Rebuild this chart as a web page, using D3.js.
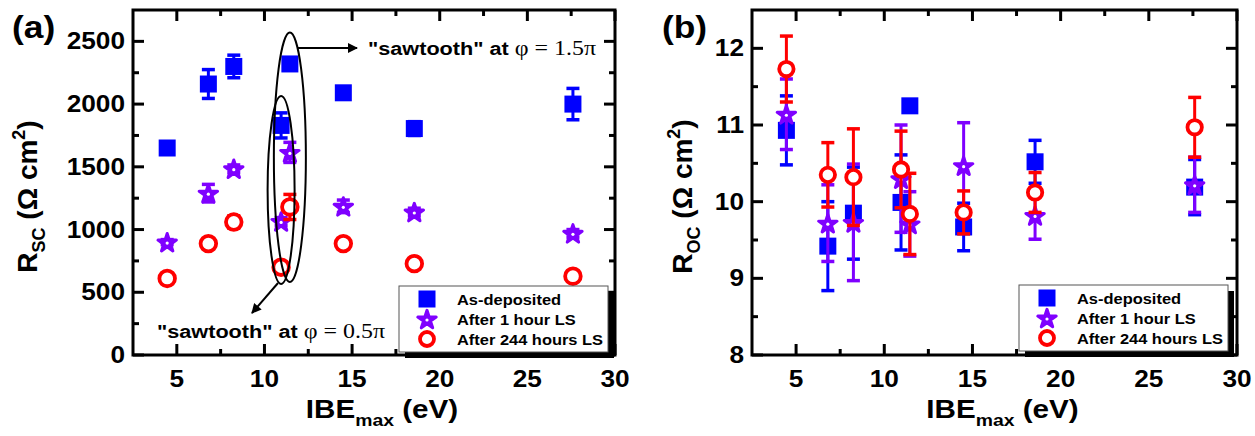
<!DOCTYPE html>
<html><head><meta charset="utf-8">
<script src="https://cdn.jsdelivr.net/npm/d3@7"></script>
<style>
body{margin:0;background:#fff;}
text{font-family:"Liberation Sans",Arial,sans-serif;}
</style></head>
<body><svg id="c" width="1255" height="436"></svg>
<script>
// ---- data ----
const ibe = [4.45, 6.8, 8.25, 10.95, 11.45, 14.5, 18.55, 27.6];
const seriesNames = ["As-deposited", "After 1 hour LS", "After 244 hours LS"];
// (a) R_SC
const rscAsDep = [1650, 2160, 2300, 1830, 2320, 2090, 1805, 2000];
const rscAsDepErr = [20, 115, 90, 100, 25, 25, 55, 125];
const rsc1h = [900, 1290, 1485, 1065, 1615, 1185, 1140, 970];
const rsc1hErr = [20, 70, 30, 30, 80, 50, 30, 30];
const rsc244h = [610, 888, 1060, 700, 1180, 888, 728, 628];
const rsc244hErr = [20, 20, 50, 20, 100, 20, 20, 20];
// (b) R_OC
const rocAsDep = [10.93, 9.42, 9.85, 9.99, 11.25, 9.67, 10.52, 10.19];
const rocAsDepErr = [0.45, 0.58, 0.6, 0.62, 0.0, 0.31, 0.28, 0.36];
const roc1h = [11.14, 9.72, 9.73, 10.3, 9.71, 10.47, 9.82, 10.22];
const roc1hErr = [0.46, 0.5, 0.76, 0.7, 0.42, 0.56, 0.31, 0.36];
const roc244h = [11.73, 10.35, 10.32, 10.42, 9.84, 9.86, 10.12, 10.97];
const roc244hErr = [0.43, 0.42, 0.63, 0.5, 0.53, 0.28, 0.26, 0.39];
const xTicks = [5, 10, 15, 20, 25, 30];
const yTicksL = [0, 500, 1000, 1500, 2000, 2500];
const yTicksR = [8, 9, 10, 11, 12];

const colors = ["#0000ff", "#7f00ff", "#ff0000"];
const svg = d3.select("#c");
const SX = 1.14;

function txt(g, x, y, size, anchor, sx){
  return g.append("text").attr("transform", `translate(${x},${y}) scale(${sx || SX},1)`)
    .attr("text-anchor", anchor || "start").attr("font-size", size).attr("font-weight", "bold");
}

function panel(cfg){
  const g = svg.append("g");
  const x = d3.scaleLinear([2.5, 30], [cfg.x0, cfg.x1]);
  const y = d3.scaleLinear(cfg.yDom, [355, 10]);
  const [X0, X1] = x.range(), [Y0, Y1] = y.range();
  const xMinor = d3.range(5, 30.01, 2.5).filter(v => !xTicks.includes(v));
  const ax = g.append("g").attr("stroke", "#000");
  xTicks.concat(xMinor).forEach(v => {
    const L = xTicks.includes(v) ? 11 : 6;
    ax.append("line").attr("x1", x(v)).attr("x2", x(v)).attr("y1", Y0).attr("y2", Y0 - L).attr("stroke-width", 3);
    ax.append("line").attr("x1", x(v)).attr("x2", x(v)).attr("y1", Y1).attr("y2", Y1 + L).attr("stroke-width", 3);
  });
  cfg.yTicks.concat(cfg.yMinor).forEach(v => {
    const L = cfg.yTicks.includes(v) ? 11 : 6;
    ax.append("line").attr("y1", y(v)).attr("y2", y(v)).attr("x1", X0).attr("x2", X0 + L).attr("stroke-width", 3);
    ax.append("line").attr("y1", y(v)).attr("y2", y(v)).attr("x1", X1).attr("x2", X1 - L).attr("stroke-width", 3);
  });
  g.append("rect").attr("x", X0).attr("y", Y1).attr("width", X1 - X0).attr("height", Y0 - Y1)
    .attr("fill", "none").attr("stroke", "#000").attr("stroke-width", 3);
  xTicks.forEach(v => txt(g, x(v), 387, 23, "middle").text(v));
  cfg.yTicks.forEach(v => txt(g, X0 - 8, y(v) + 8, 23, "end").text(v));
  const xt = txt(g, (X0 + X1) / 2 + 8, 418, 26, "middle");
  xt.append("tspan").text("IBE");
  xt.append("tspan").attr("font-size", 17).attr("dy", 8).text("max");
  xt.append("tspan").attr("dy", -8).text(" (eV)");
  const yt = g.append("text").attr("transform", `translate(${cfg.ytx},${(Y0 + Y1) / 2 + 14}) rotate(-90)`)
    .attr("text-anchor", "middle").attr("font-size", 28).attr("font-weight", "bold");
  yt.append("tspan").text("R");
  yt.append("tspan").attr("font-size", 18).attr("dy", 8).text(cfg.sub);
  yt.append("tspan").attr("dy", -8).text(" (Ω cm");
  yt.append("tspan").attr("font-size", 18).attr("dy", -12).text("2");
  yt.append("tspan").attr("dy", 12).text(")");
  txt(g, cfg.labX, 38, 31).text(cfg.label);
  cfg.series.forEach((s, i) => {
    const sg = g.append("g");
    s.vals.forEach((v, j) => {
      const e = s.err[j];
      if (e > 0) {
        const cx = x(ibe[j]);
        sg.append("line").attr("x1", cx).attr("x2", cx).attr("y1", y(v - e)).attr("y2", y(v + e))
          .attr("stroke", colors[i]).attr("stroke-width", 3);
        [v - e, v + e].forEach(w => sg.append("line").attr("x1", cx - 6.5).attr("x2", cx + 6.5)
          .attr("y1", y(w)).attr("y2", y(w)).attr("stroke", colors[i]).attr("stroke-width", 3.5));
      }
    });
    s.vals.forEach((v, j) => marker(sg, i, x(ibe[j]), y(v), cfg.cr));
  });
  const lg = g.append("g");
  lg.append("rect").attr("x", cfg.lx + 6).attr("y", cfg.ly + 6).attr("width", 209).attr("height", 66).attr("fill", "#000");
  lg.append("rect").attr("x", cfg.lx).attr("y", cfg.ly).attr("width", 209).attr("height", 66)
    .attr("fill", "#fff").attr("stroke", "#555").attr("stroke-width", 1);
  seriesNames.forEach((n, i) => {
    marker(lg, i, cfg.lx + 28, cfg.ly + 13 + i * 20, 7);
    txt(lg, cfg.lx + 58, cfg.ly + 19 + i * 20, 15.5, "start", 1.06).text(n);
  });
  return {x, y, g};
}

function marker(g, i, cx, cy, cr){
  if (i === 0) {
    g.append("rect").attr("x", cx - 8.5).attr("y", cy - 8.5).attr("width", 17).attr("height", 17).attr("fill", colors[0]);
  } else if (i === 1) {
    g.append("path").attr("d", d3.symbol(d3.symbolStar, 105)()).attr("transform", `translate(${cx},${cy + 1})`)
      .attr("fill", colors[1]).attr("stroke", colors[1]).attr("stroke-width", 3).attr("stroke-linejoin", "round");
    g.append("circle").attr("cx", cx).attr("cy", cy + 1).attr("r", 1.6).attr("fill", "#fff");
  } else {
    g.append("circle").attr("cx", cx).attr("cy", cy).attr("r", cr).attr("fill", "#fff")
      .attr("stroke", colors[2]).attr("stroke-width", 3.8);
  }
}

const A = panel({x0: 133, x1: 615, yDom: [0, 2750], yTicks: yTicksL, yMinor: [250, 750, 1250, 1750, 2250],
  ytx: 37, sub: "SC", label: "(a)", labX: 12, lx: 399, ly: 286, cr: 7.8,
  series: [{vals: rscAsDep, err: rscAsDepErr}, {vals: rsc1h, err: rsc1hErr}, {vals: rsc244h, err: rsc244hErr}]});
const B = panel({x0: 752, x1: 1237, yDom: [8, 12.5], yTicks: yTicksR, yMinor: [8.5, 9.5, 10.5, 11.5],
  ytx: 692, sub: "OC", label: "(b)", labX: 662, lx: 1019, ly: 285, cr: 7.2,
  series: [{vals: rocAsDep, err: rocAsDepErr}, {vals: roc1h, err: roc1hErr}, {vals: roc244h, err: roc244hErr}]});

// annotations on (a)
const an = A.g.append("g").attr("fill", "none").attr("stroke", "#000").attr("stroke-width", 2);
const ell = (cx, v1, v2, rx) => an.append("ellipse").attr("cx", A.x(cx)).attr("cy", (A.y(v1) + A.y(v2)) / 2)
  .attr("rx", rx).attr("ry", Math.abs(A.y(v1) - A.y(v2)) / 2);
ell(10.95, 2065, 566, 13.5);
ell(11.45, 2570, 582, 16);
svg.append("defs").append("marker").attr("id", "ah").attr("viewBox", "0 0 10 10").attr("refX", 9).attr("refY", 5)
  .attr("markerWidth", 6).attr("markerHeight", 5).attr("orient", "auto").attr("markerUnits", "strokeWidth")
  .append("path").attr("d", "M0,0 L10,5 L0,10 z").attr("fill", "#000");
an.append("line").attr("x1", 298).attr("y1", 48).attr("x2", 357).attr("y2", 48).attr("marker-end", "url(#ah)");
an.append("line").attr("x1", 278).attr("y1", 283).attr("x2", 252).attr("y2", 313).attr("marker-end", "url(#ah)");
function note(x, y, phi){
  const t = txt(A.g, x, y, 19, "start");
  t.append("tspan").text('"sawtooth" at ');
  t.append("tspan").attr("font-family", "'Liberation Serif','Times New Roman',serif").attr("font-weight", "normal")
    .attr("font-size", 21).text("φ = " + phi);
}
note(368, 55, "1.5π");
note(157, 338, "0.5π");
</script></body></html>
